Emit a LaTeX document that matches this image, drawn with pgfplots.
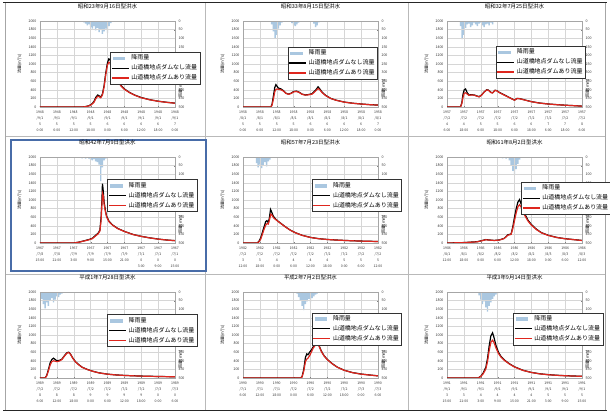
\documentclass[border=0pt]{standalone}
\usepackage{pgfplots}
\pgfplotsset{compat=1.18}
\usepackage{fontspec}
\setmainfont{Noto Sans CJK JP}
\definecolor{rainblue}{RGB}{170,199,224}
\definecolor{lred}{RGB}{222,38,30}
\definecolor{framblue}{RGB}{72,108,168}
\pgfplotsset{
  base/.style={scale only axis, width=135bp, height=86bp, xmin=0, xmax=8, anchor=south west,
    /pgf/number format/assume math mode=true, /pgf/number format/1000 sep={},
    tick label style={font=\fontsize{3.6}{4.5}\selectfont, text=black!80},
    major tick length=1.3pt, axis line style={gray!70, line width=0.4pt}},
  rainax/.style={base, ymin=0, ymax=500, y dir=reverse, axis y line*=right, axis x line=none,
    ytick={0,50,...,500}, ylabel={雨量(mm)},
    ylabel style={font=\fontsize{4}{5}\selectfont, at={(ticklabel* cs:0.22)}}},
  flowax/.style={base, ymin=0, ymax=2000, ytick={0,200,...,2000}, xtick={0,...,8},
    ytick pos=left, xtick pos=bottom, grid=major, grid style={gray!32, line width=0.35pt},
    xticklabel style={align=center, font=\fontsize{3.5}{6.3}\selectfont},
    ylabel={流量(m³/s)}, ylabel style={font=\fontsize{4}{5}\selectfont},
    title style={font=\fontsize{5.5}{6.5}\selectfont, yshift=3pt},
    legend style={font=\fontsize{6}{7}\selectfont, anchor=north west, draw=black!80,
      line width=0.4pt, inner sep=0.8pt, row sep=-0.6pt, fill=white},
    legend cell align=left},
  rainbar/.style={ybar, bar width=1.4bp, fill=rainblue, draw=none},
  blk/.style={black, line width=1.2pt},
  rd/.style={lred, line width=1.2pt},
}
\newcommand{\legs}{\addlegendimage{legend image code/.code={\fill[rainblue] (0.05cm,-0.045cm) rectangle (0.45cm,0.045cm);}}}
\newcommand{\legtext}{\legend{降雨量,山道橋地点ダムなし流量,山道橋地点ダムあり流量}}
\begin{document}
\begin{tikzpicture}
\path[use as bounding box] (0,0) rectangle (610bp,413bp);
% frame lines
\draw[gray!55, line width=0.6pt] (5bp,277bp) -- (605bp,277bp);
\draw[gray!55, line width=0.6pt] (5bp,139bp) -- (605bp,139bp);
\draw[gray!55, line width=0.6pt] (205bp,3bp) -- (205bp,410bp);
\draw[gray!55, line width=0.6pt] (408bp,3bp) -- (408bp,410bp);
\draw[gray!70, line width=0.6pt] (5bp,3bp) -- (5bp,410bp);
\draw[gray!70, line width=0.6pt] (605bp,3bp) -- (605bp,410bp);
\draw[black!85, line width=1pt] (3bp,410bp) -- (607bp,410bp);
\draw[black!85, line width=1pt] (3bp,3bp) -- (607bp,3bp);
\draw[framblue, line width=1.4pt] (11bp,142bp) rectangle (206bp,273bp);

% ---------- Panel 1 ----------
\begin{axis}[rainax, at={(40bp,306bp)}]
\addplot[rainbar] coordinates {(2.6,8)(2.7,15)(2.8,25)(2.9,20)(3.0,35)(3.1,45)(3.2,30)(3.3,55)(3.4,40)(3.5,65)(3.6,50)(3.7,75)(3.8,60)(3.9,45)(4.0,70)(4.1,30)(4.2,12)};
\end{axis}
\begin{axis}[flowax, at={(40bp,306bp)}, title={昭和23年9月16日型洪水},
  legend style={at={(rel axis cs:0.52,0.64)}},
  xticklabels={{1948\\/9/1\\5\\0:00},{1948\\/9/1\\5\\6:00},{1948\\/9/1\\5\\12:00},{1948\\/9/1\\5\\18:00},{1948\\/9/1\\6\\0:00},{1948\\/9/1\\6\\6:00},{1948\\/9/1\\6\\12:00},{1948\\/9/1\\6\\18:00},{1948\\/9/1\\7\\0:00}}]
\legs
\addplot[blk] coordinates {(0,0)(2.5,0)(2.7,10)(2.9,30)(3.05,60)(3.2,130)(3.3,220)(3.42,280)(3.5,260)(3.6,230)(3.7,300)(3.8,500)(3.9,800)(4.0,1030)(4.08,1120)(4.15,1100)(4.25,960)(4.4,780)(4.6,610)(4.8,500)(5.0,420)(5.3,340)(5.6,280)(6.0,220)(6.5,170)(7.0,135)(7.5,110)(8.0,90)};
\addplot[rd] coordinates {(0,0)(2.5,0)(2.7,8)(2.9,25)(3.05,55)(3.2,110)(3.3,190)(3.42,250)(3.5,240)(3.6,215)(3.7,280)(3.8,470)(3.9,760)(4.0,980)(4.08,1040)(4.15,1020)(4.25,920)(4.4,760)(4.6,600)(4.8,490)(5.0,410)(5.3,335)(5.6,275)(6.0,215)(6.5,168)(7.0,133)(7.5,108)(8.0,88)};
\legtext
\end{axis}

% ---------- Panel 2 ----------
\begin{axis}[rainax, at={(243bp,306bp)}]
\addplot[rainbar] coordinates {(1.7,20)(1.8,60)(1.9,100)(2.0,80)(2.1,45)(2.2,25)(2.3,10)(2.9,12)(3.0,25)(3.1,30)(3.2,20)(3.3,10)(4.2,15)(4.3,35)(4.4,25)(4.5,8)};
\end{axis}
\begin{axis}[flowax, at={(243bp,306bp)}, title={昭和33年8月15日型洪水},
  legend style={at={(rel axis cs:0.33,0.70)}},
  xticklabels={{1958\\/8/1\\5\\0:00},{1958\\/8/1\\5\\6:00},{1958\\/8/1\\5\\12:00},{1958\\/8/1\\5\\18:00},{1958\\/8/1\\6\\0:00},{1958\\/8/1\\6\\6:00},{1958\\/8/1\\6\\12:00},{1958\\/8/1\\6\\18:00},{1958\\/8/1\\7\\0:00}}]
\legs
\addplot[blk] coordinates {(0,0)(1.65,0)(1.72,60)(1.8,250)(1.88,450)(1.95,520)(2.02,480)(2.1,440)(2.25,420)(2.4,380)(2.55,320)(2.7,300)(2.85,320)(3.0,360)(3.15,370)(3.3,350)(3.5,300)(3.7,280)(3.9,290)(4.1,310)(4.3,390)(4.45,470)(4.55,420)(4.7,340)(4.9,270)(5.2,200)(5.5,160)(6.0,115)(6.5,88)(7.0,70)(7.5,55)(8.0,45)};
\addplot[rd] coordinates {(0,0)(1.65,0)(1.72,40)(1.8,180)(1.88,350)(1.95,410)(2.02,420)(2.1,410)(2.25,400)(2.4,370)(2.55,315)(2.7,295)(2.85,315)(3.0,350)(3.15,360)(3.3,345)(3.5,295)(3.7,275)(3.9,285)(4.1,300)(4.3,370)(4.45,430)(4.55,400)(4.7,330)(4.9,265)(5.2,198)(5.5,158)(6.0,113)(6.5,87)(7.0,69)(7.5,54)(8.0,44)};
\legtext
\end{axis}

% ---------- Panel 3 ----------
\begin{axis}[rainax, at={(447bp,306bp)}]
\addplot[rainbar] coordinates {(0.8,30)(0.9,105)(1.0,80)(1.1,40)(1.2,20)(1.3,15)(1.4,35)(1.5,25)(1.6,10)(1.7,20)(1.8,30)(1.9,15)(2.0,10)(2.1,25)(2.2,35)(2.3,20)(2.4,15)(2.5,25)(2.6,10)(2.7,20)};
\end{axis}
\begin{axis}[flowax, at={(447bp,306bp)}, title={昭和32年7月25日型洪水},
  legend style={at={(rel axis cs:0.36,0.71)}},
  xticklabels={{1957\\/7/2\\4\\6:00},{1957\\/7/2\\4\\18:00},{1957\\/7/2\\5\\6:00},{1957\\/7/2\\5\\18:00},{1957\\/7/2\\6\\6:00},{1957\\/7/2\\6\\18:00},{1957\\/7/2\\7\\6:00},{1957\\/7/2\\7\\18:00},{1957\\/7/2\\8\\6:00}}]
\legs
\addplot[blk] coordinates {(0,0)(0.8,0)(0.88,100)(0.95,300)(1.02,400)(1.1,420)(1.2,330)(1.3,280)(1.45,285)(1.6,280)(1.75,260)(1.9,240)(2.05,280)(2.2,350)(2.35,400)(2.45,395)(2.6,340)(2.7,330)(2.85,390)(2.95,380)(3.1,340)(3.3,300)(3.5,260)(3.7,220)(3.9,180)(4.0,160)(4.15,200)(4.3,195)(4.6,165)(5.0,125)(5.5,92)(6.0,70)(6.5,55)(7.0,42)(7.5,32)(7.8,25)(8.0,20)};
\addplot[rd] coordinates {(0,0)(0.8,0)(0.88,80)(0.95,230)(1.02,320)(1.1,330)(1.2,300)(1.3,270)(1.45,280)(1.6,275)(1.75,255)(1.9,235)(2.05,275)(2.2,345)(2.35,395)(2.45,390)(2.6,335)(2.7,325)(2.85,385)(2.95,375)(3.1,335)(3.3,295)(3.5,255)(3.7,215)(3.9,178)(4.0,158)(4.15,197)(4.3,192)(4.6,162)(5.0,123)(5.5,90)(6.0,69)(6.5,54)(7.0,41)(7.5,31)(7.8,24)(8.0,19)};
\legtext
\end{axis}

% ---------- Panel 4 ----------
\begin{axis}[rainax, at={(40bp,170bp)}]
\addplot[rainbar] coordinates {(2.2,5)(2.5,8)(2.7,10)(2.9,10)(3.0,15)(3.1,20)(3.2,12)(3.3,25)(3.4,30)(3.5,45)(3.6,140)(3.7,60)(3.8,20)(3.9,10)};
\end{axis}
\begin{axis}[flowax, at={(40bp,170bp)}, title={昭和42年7月9日型洪水},
  legend style={at={(rel axis cs:0.50,0.74)}},
  xticklabels={{1967\\/7/8\\15:00},{1967\\/7/8\\21:00},{1967\\/7/9\\3:00},{1967\\/7/9\\9:00},{1967\\/7/9\\15:00},{1967\\/7/9\\21:00},{1967\\/7/1\\0\\3:00},{1967\\/7/1\\0\\9:00},{1967\\/7/1\\0\\15:00}}]
\legs
\addplot[blk] coordinates {(0,0)(2.0,0)(2.3,20)(2.6,50)(2.9,80)(3.1,110)(3.3,180)(3.45,230)(3.55,300)(3.62,600)(3.67,1000)(3.7,1380)(3.74,1250)(3.8,950)(3.88,750)(3.95,620)(4.1,500)(4.3,420)(4.6,340)(5.0,270)(5.5,200)(6.0,155)(6.5,120)(7.0,92)(7.5,70)(8.0,55)};
\addplot[rd] coordinates {(0,0)(2.0,0)(2.3,18)(2.6,45)(2.9,75)(3.1,100)(3.3,165)(3.45,215)(3.55,280)(3.62,520)(3.67,900)(3.71,1150)(3.75,1100)(3.8,900)(3.88,720)(3.95,600)(4.1,490)(4.3,415)(4.6,335)(5.0,268)(5.5,198)(6.0,153)(6.5,118)(7.0,90)(7.5,69)(8.0,54)};
\legtext
\end{axis}

% ---------- Panel 5 ----------
\begin{axis}[rainax, at={(243bp,170bp)}]
\addplot[rainbar] coordinates {(0.8,35)(0.9,60)(1.0,45)(1.1,65)(1.2,50)(1.3,30)(1.4,55)(1.5,25)(1.6,15)};
\end{axis}
\begin{axis}[flowax, at={(243bp,170bp)}, title={昭和57年7月23日型洪水},
  legend style={at={(rel axis cs:0.51,0.74)}},
  xticklabels={{1982\\/7/2\\3\\12:00},{1982\\/7/2\\3\\18:00},{1982\\/7/2\\4\\0:00},{1982\\/7/2\\4\\6:00},{1982\\/7/2\\4\\12:00},{1982\\/7/2\\4\\18:00},{1982\\/7/2\\5\\0:00},{1982\\/7/2\\5\\6:00},{1982\\/7/2\\5\\12:00}}]
\legs
\addplot[blk] coordinates {(0,0)(0.85,0)(0.95,40)(1.05,120)(1.15,250)(1.25,380)(1.35,500)(1.42,520)(1.5,470)(1.57,600)(1.63,780)(1.7,720)(1.8,620)(1.95,550)(2.1,500)(2.3,440)(2.5,380)(2.8,300)(3.1,240)(3.5,180)(4.0,130)(4.5,100)(5.0,82)(5.5,70)(6.0,60)(6.5,52)(7.0,45)(7.5,40)(8.0,35)};
\addplot[rd] coordinates {(0,0)(0.85,0)(0.95,30)(1.05,90)(1.15,200)(1.25,320)(1.35,420)(1.42,450)(1.5,440)(1.57,540)(1.65,670)(1.72,650)(1.8,590)(1.95,540)(2.1,495)(2.3,435)(2.5,378)(2.8,298)(3.1,238)(3.5,178)(4.0,128)(4.5,99)(5.0,81)(5.5,69)(6.0,59)(6.5,51)(7.0,44)(7.5,39)(8.0,34)};
\legtext
\end{axis}

% ---------- Panel 6 ----------
\begin{axis}[rainax, at={(447bp,170bp)}]
\addplot[rainbar] coordinates {(2.2,5)(3.3,8)(3.5,10)(3.7,20)(3.8,50)(3.9,80)(4.0,105)(4.1,70)(4.2,40)(4.3,15)};
\end{axis}
\begin{axis}[flowax, at={(447bp,170bp)}, title={昭和61年8月2日型洪水},
  legend style={at={(rel axis cs:0.55,0.71)}},
  xticklabels={{1986\\/8/1\\12:00},{1986\\/8/1\\18:00},{1986\\/8/2\\0:00},{1986\\/8/2\\6:00},{1986\\/8/2\\12:00},{1986\\/8/2\\18:00},{1986\\/8/3\\0:00},{1986\\/8/3\\6:00},{1986\\/8/3\\12:00}}]
\legs
\addplot[blk] coordinates {(0,0)(1.0,10)(1.8,30)(2.1,60)(2.3,80)(2.5,70)(2.8,60)(3.1,70)(3.4,110)(3.6,190)(3.8,210)(3.9,380)(4.0,600)(4.1,800)(4.2,950)(4.3,1010)(4.4,900)(4.55,720)(4.8,530)(5.0,430)(5.3,320)(5.6,240)(6.0,180)(6.5,130)(7.0,100)(7.5,80)(8.0,60)};
\addplot[rd] coordinates {(0,0)(1.0,8)(1.8,28)(2.1,55)(2.3,75)(2.5,68)(2.8,58)(3.1,68)(3.4,105)(3.6,180)(3.8,200)(3.9,340)(4.0,520)(4.1,700)(4.2,840)(4.3,890)(4.4,830)(4.55,680)(4.8,510)(5.0,415)(5.3,312)(5.6,235)(6.0,176)(6.5,128)(7.0,98)(7.5,78)(8.0,58)};
\legtext
\end{axis}

% ---------- Panel 7 ----------
\begin{axis}[rainax, at={(40bp,35bp)}]
\addplot[rainbar] coordinates {(0.1,40)(0.2,70)(0.3,95)(0.4,60)(0.5,80)(0.6,50)(0.7,35)(0.8,60)(0.9,45)(1.0,25)(1.1,30)(1.2,15)(1.3,10)};
\end{axis}
\begin{axis}[flowax, at={(40bp,35bp)}, title={平成1年7月28日型洪水},
  legend style={at={(rel axis cs:0.50,0.74)}},
  xticklabels={{1989\\/7/2\\8\\6:00},{1989\\/7/2\\8\\12:00},{1989\\/7/2\\8\\18:00},{1989\\/7/2\\9\\0:00},{1989\\/7/2\\9\\6:00},{1989\\/7/2\\9\\12:00},{1989\\/7/2\\9\\18:00},{1989\\/7/3\\0\\0:00},{1989\\/7/3\\0\\6:00}}]
\legs
\addplot[blk] coordinates {(0,0)(0.3,0)(0.4,60)(0.5,200)(0.6,350)(0.7,430)(0.8,460)(0.9,430)(1.0,400)(1.15,410)(1.3,440)(1.45,520)(1.6,590)(1.7,600)(1.8,560)(1.95,460)(2.1,380)(2.3,310)(2.5,250)(2.8,200)(3.1,160)(3.5,120)(4.0,90)(4.5,72)(5.0,60)(5.5,52)(6.0,45)(6.5,40)(7.0,36)(7.5,32)(8.0,30)};
\addplot[rd] coordinates {(0,0)(0.3,0)(0.4,50)(0.5,170)(0.6,300)(0.7,380)(0.8,400)(0.9,390)(1.0,380)(1.15,395)(1.3,430)(1.45,510)(1.6,580)(1.7,590)(1.8,555)(1.95,455)(2.1,375)(2.3,305)(2.5,248)(2.8,198)(3.1,158)(3.5,118)(4.0,89)(4.5,71)(5.0,59)(5.5,51)(6.0,44)(6.5,39)(7.0,35)(7.5,31)(8.0,29)};
\legtext
\end{axis}

% ---------- Panel 8 ----------
\begin{axis}[rainax, at={(243bp,35bp)}]
\addplot[rainbar] coordinates {(3.2,10)(3.3,30)(3.4,50)(3.5,80)(3.6,105)(3.7,70)(3.8,55)(3.9,40)(4.0,60)(4.1,35)(4.2,25)(4.3,15)(4.4,10)};
\end{axis}
\begin{axis}[flowax, at={(243bp,35bp)}, title={平成2年7月2日型洪水},
  legend style={at={(rel axis cs:0.51,0.76)}},
  xticklabels={{1990\\/7/1\\6:00},{1990\\/7/1\\12:00},{1990\\/7/1\\18:00},{1990\\/7/2\\0:00},{1990\\/7/2\\6:00},{1990\\/7/2\\12:00},{1990\\/7/2\\18:00},{1990\\/7/3\\0:00},{1990\\/7/3\\6:00}}]
\legs
\addplot[blk] coordinates {(0,0)(3.4,0)(3.5,30)(3.6,200)(3.7,480)(3.78,560)(3.85,540)(3.95,600)(4.05,650)(4.15,720)(4.3,800)(4.4,820)(4.5,760)(4.65,620)(4.8,520)(5.0,430)(5.3,330)(5.6,250)(6.0,180)(6.5,125)(7.0,92)(7.5,70)(8.0,50)};
\addplot[rd] coordinates {(0,0)(3.4,0)(3.5,25)(3.6,160)(3.7,380)(3.78,440)(3.85,460)(3.95,520)(4.05,600)(4.15,690)(4.3,770)(4.4,790)(4.5,745)(4.65,610)(4.8,515)(5.0,425)(5.3,327)(5.6,248)(6.0,178)(6.5,123)(7.0,90)(7.5,69)(8.0,49)};
\legtext
\end{axis}

% ---------- Panel 9 ----------
\begin{axis}[rainax, at={(447bp,35bp)}]
\addplot[rainbar] coordinates {(1.9,20)(2.0,45)(2.1,70)(2.2,55)(2.3,90)(2.4,114)(2.5,80)(2.6,60)(2.7,40)(2.8,25)(2.9,15)(3.0,8)};
\end{axis}
\begin{axis}[flowax, at={(447bp,35bp)}, title={平成3年9月14日型洪水},
  legend style={at={(rel axis cs:0.49,0.76)}},
  xticklabels={{1991\\/9/1\\3\\15:00},{1991\\/9/1\\3\\21:00},{1991\\/9/1\\4\\3:00},{1991\\/9/1\\4\\9:00},{1991\\/9/1\\4\\15:00},{1991\\/9/1\\4\\21:00},{1991\\/9/1\\5\\3:00},{1991\\/9/1\\5\\9:00},{1991\\/9/1\\5\\15:00}}]
\legs
\addplot[blk] coordinates {(0,0)(1.85,0)(2.0,40)(2.15,120)(2.3,250)(2.4,450)(2.5,750)(2.6,980)(2.7,1050)(2.78,950)(2.9,760)(3.05,600)(3.2,500)(3.4,420)(3.7,330)(4.0,260)(4.5,180)(5.0,130)(5.5,98)(6.0,78)(6.5,64)(7.0,54)(7.5,46)(8.0,40)};
\addplot[rd] coordinates {(0,0)(1.85,0)(2.0,35)(2.15,100)(2.3,210)(2.4,380)(2.5,640)(2.6,830)(2.7,880)(2.78,830)(2.9,700)(3.05,570)(3.2,485)(3.4,410)(3.7,325)(4.0,255)(4.5,177)(5.0,128)(5.5,96)(6.0,76)(6.5,62)(7.0,52)(7.5,45)(8.0,39)};
\legtext
\end{axis}
\end{tikzpicture}
\end{document}
